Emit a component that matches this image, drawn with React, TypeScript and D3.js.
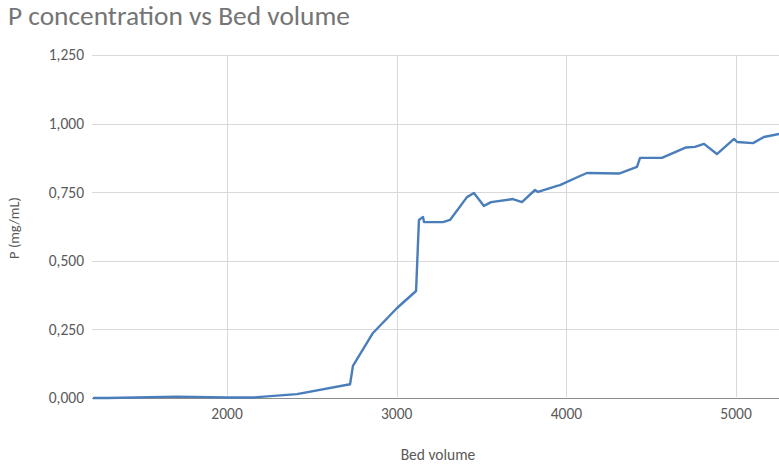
import React from "react";
import * as d3 from "d3";

// Bed volume (x) and P concentration in mg/mL (y)
const bedVolume = [
  1150, 1300, 1705, 2000, 2153, 2412, 2725, 2742, 2860, 3002, 3114, 3131, 3155, 3161,
  3273, 3314, 3414, 3455, 3514, 3556, 3685, 3738, 3815, 3833, 3945, 3962, 4080, 4121,
  4310, 4416, 4434, 4563, 4705, 4758, 4811, 4887, 4988, 5006, 5100, 5164, 5300,
];
const pConcentration = [
  0.0, 0.0, 0.005, 0.002, 0.002, 0.014, 0.05, 0.117, 0.237, 0.328, 0.39, 0.649, 0.66,
  0.641, 0.641, 0.649, 0.732, 0.747, 0.7, 0.714, 0.725, 0.714, 0.758, 0.751, 0.773,
  0.776, 0.809, 0.82, 0.818, 0.842, 0.875, 0.875, 0.913, 0.915, 0.926, 0.889, 0.944,
  0.933, 0.929, 0.951, 0.968,
];
const xTicks = [2000, 3000, 4000, 5000];
const yTicks = [0, 0.25, 0.5, 0.75, 1.0, 1.25];

const W = 779;
const H = 466;
const plot = { left: 93, right: 779, top: 55, bottom: 398 };

export default function App() {
  const x = d3.scaleLinear().domain([1210, 5253]).range([plot.left, plot.right]);
  const y = d3.scaleLinear().domain([0, 1.25]).range([plot.bottom, plot.top]);
  const line = d3
    .line<number>()
    .x((_, i) => x(bedVolume[i]))
    .y((d) => y(d));
  const fmtY = (v: number) => v.toFixed(3).replace(".", ",");
  const font = "Carlito, 'Open Sans', 'Noto Sans', sans-serif";

  return (
    <svg
      width={W}
      height={H}
      style={{ position: "absolute", left: 0, top: 0, display: "block", background: "#fff" }}
      fontFamily={font}
    >
      <defs>
        <clipPath id="plotClip">
          <rect x={plot.left} y={plot.top - 5} width={plot.right - plot.left} height={plot.bottom - plot.top + 10} />
        </clipPath>
      </defs>
      <text x={8} y={25} fontSize={26.5} fill="#757575" textLength={342} lengthAdjust="spacingAndGlyphs">
        P concentration vs Bed volume
      </text>

      {/* horizontal gridlines */}
      {yTicks.map((t) => (
        <line
          key={"gy" + t}
          x1={plot.left - 1}
          x2={plot.right}
          y1={Math.round(y(t)) + 0.5}
          y2={Math.round(y(t)) + 0.5}
          stroke={t === 0 ? "#8c8c8c" : "#d9d9d9"}
          strokeWidth={t === 0 ? 1.2 : 1}
        />
      ))}
      {/* vertical gridlines */}
      {xTicks.map((t) => (
        <line
          key={"gx" + t}
          x1={Math.round(x(t)) + 0.5}
          x2={Math.round(x(t)) + 0.5}
          y1={plot.top}
          y2={plot.bottom - 1}
          stroke="#d9d9d9"
          strokeWidth={1}
        />
      ))}

      {/* y tick labels */}
      {yTicks.map((t) => (
        <text
          key={"ly" + t}
          x={84}
          y={y(t)}
          dy="0.35em"
          textAnchor="end"
          fontSize={15.5}
          fill="#595959"
        >
          {fmtY(t)}
        </text>
      ))}
      {/* x tick labels */}
      {xTicks.map((t) => (
        <text key={"lx" + t} x={x(t)} y={419} textAnchor="middle" fontSize={15.5} fill="#595959">
          {t}
        </text>
      ))}

      <text x={438} y={460} textAnchor="middle" fontSize={15.5} fill="#595959">
        Bed volume
      </text>
      <text
        transform={`translate(19, 228) rotate(-90)`}
        textAnchor="middle"
        fontSize={14.5}
        fill="#595959"
      >
        P (mg/mL)
      </text>

      <path
        d={line(pConcentration) ?? ""}
        fill="none"
        stroke="#4a7ebb"
        strokeWidth={2.4}
        strokeLinejoin="round"
        clipPath="url(#plotClip)"
      />
    </svg>
  );
}
